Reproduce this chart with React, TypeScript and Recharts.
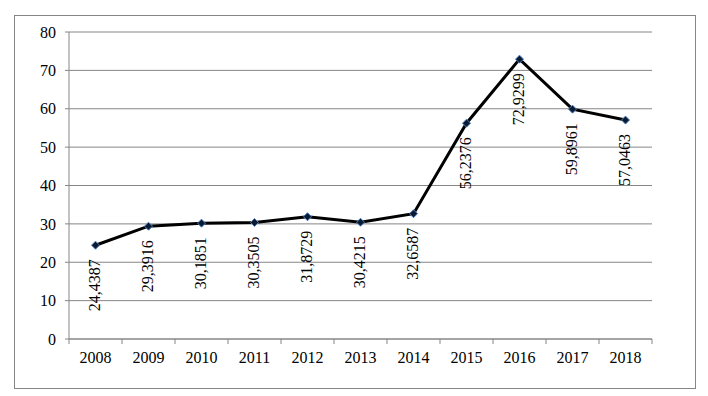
import { CartesianGrid, LabelList, Line, LineChart, XAxis, YAxis } from "recharts";

const YEARS = ["2008", "2009", "2010", "2011", "2012", "2013", "2014", "2015", "2016", "2017", "2018"];
const VALUES = [24.4387, 29.3916, 30.1851, 30.3505, 31.8729, 30.4215, 32.6587, 56.2376, 72.9299, 59.8961, 57.0463];
const Y_TICKS = [0, 10, 20, 30, 40, 50, 60, 70, 80];

const GRID = "#868686";
const FONT = "Liberation Serif";
const BAND = 583 / YEARS.length;

const data = YEARS.map((year, i) => ({ year, value: VALUES[i] }));

const fmt = (v: number) => v.toFixed(4).replace(".", ",");

function YearTick({ x, y, payload, index }: any) {
  const half = BAND / 2;
  return (
    <g>
      <line x1={x - half} x2={x - half} y1={y} y2={y + 5} stroke={GRID} />
      {index === YEARS.length - 1 && <line x1={x + half} x2={x + half} y1={y} y2={y + 5} stroke={GRID} />}
      <text x={x} y={y + 24} textAnchor="middle" fontSize={16} style={{ fontFamily: FONT }} fill="#000">
        {payload.value}
      </text>
    </g>
  );
}

function Diamond({ cx, cy }: any) {
  if (cx == null || cy == null) return null;
  const r = 4;
  return (
    <polygon
      points={`${cx},${cy - r} ${cx + r},${cy} ${cx},${cy + r} ${cx - r},${cy}`}
      fill="#0b1a33"
      stroke="#4a7ebb"
      strokeWidth={1}
    />
  );
}

function ValueLabel({ x, y, value }: any) {
  const ax = x + 5;
  const ay = y + 14;
  return (
    <text
      x={ax}
      y={ay}
      transform={`rotate(-90 ${ax} ${ay})`}
      textAnchor="end"
      fontSize={16}
      style={{ fontFamily: FONT }}
      fill="#000"
    >
      {fmt(value)}
    </text>
  );
}

export default function App() {
  return (
    <div style={{ paddingTop: 7, paddingLeft: 6, fontFamily: FONT }}>
      <div style={{ width: 680, height: 372, border: `1px solid ${GRID}` }}>
        <LineChart width={680} height={372} data={data} margin={{ top: 16, right: 43, bottom: 0, left: 0 }}>
          <CartesianGrid vertical={false} stroke={GRID} strokeWidth={1} />
          <XAxis
            dataKey="year"
            height={49}
            tickSize={0}
            tickMargin={0}
            tickLine={false}
            axisLine={{ stroke: GRID }}
            tick={<YearTick />}
            interval={0}
            padding={{ left: BAND / 2, right: BAND / 2 }}
          />
          <YAxis
            width={54}
            domain={[0, 80]}
            ticks={Y_TICKS}
            tickSize={4}
            tickMargin={9}
            tickLine={{ stroke: GRID }}
            axisLine={{ stroke: GRID }}
            tick={{ fontSize: 16, fill: "#000", style: { fontFamily: FONT } }}
          />
          <Line
            dataKey="value"
            stroke="#000"
            strokeWidth={3}
            dot={<Diamond />}
            activeDot={false}
            isAnimationActive={false}
          >
            <LabelList dataKey="value" content={<ValueLabel />} />
          </Line>
        </LineChart>
      </div>
    </div>
  );
}
